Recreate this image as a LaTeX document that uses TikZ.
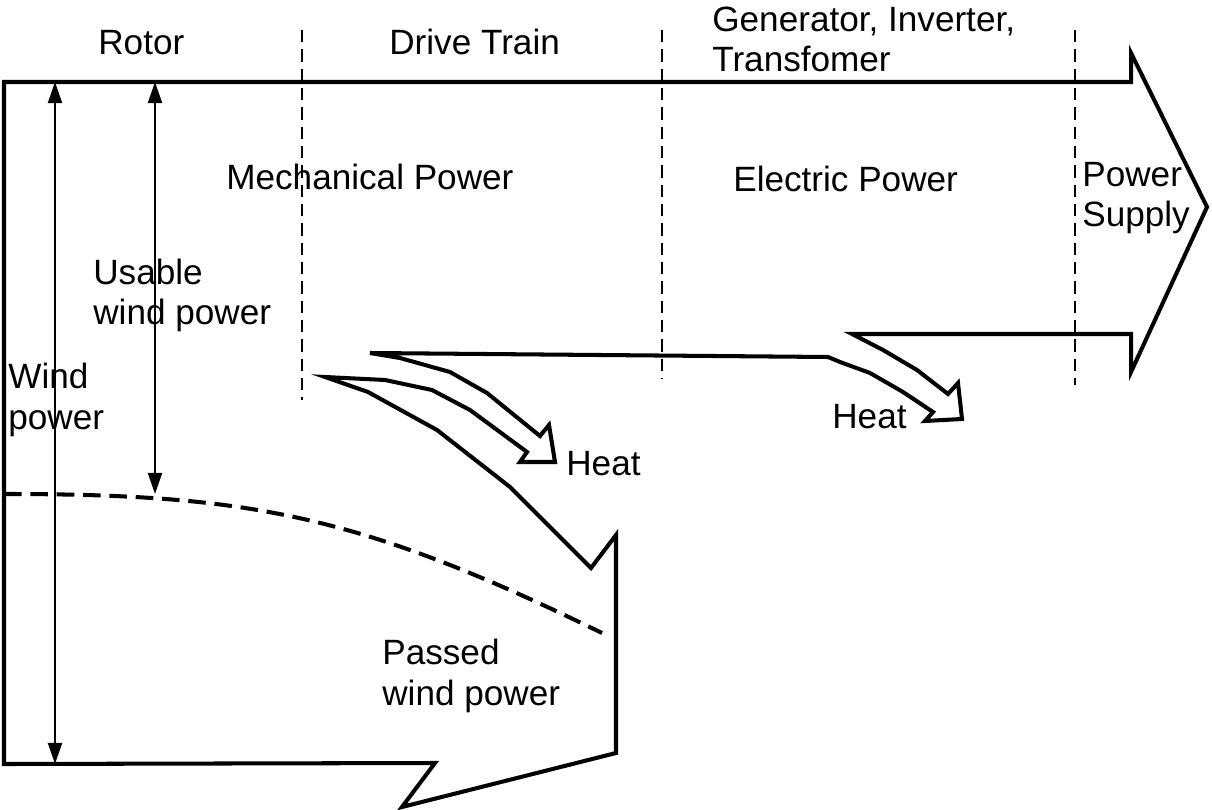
\documentclass[tikz,border=0pt]{standalone}
\usepackage{fontspec}
\setmainfont{Liberation Sans}
\usetikzlibrary{arrows.meta}

\begin{document}
\begin{tikzpicture}[x=0.02cm,y=-0.02cm,
  lbl/.style={font=\fontsize{20}{23}\selectfont,inner sep=0pt,align=left,anchor=base west},
  flow/.style={line width=2.3pt,line join=miter},
  sep/.style={line width=1.1pt,dash pattern=on 7pt off 4pt},
  split/.style={line width=2.3pt,dash pattern=on 10pt off 5pt},
  dim/.style={{Triangle[length=12pt,width=8pt]}-{Triangle[length=12pt,width=8pt]},line width=1.1pt}
]
\useasboundingbox (0,0) rectangle (1212,810);

% stage borders
\draw[sep] (302,30) -- (302,400);
\draw[sep] (662,30) -- (662,378);
\draw[sep] (1075,30) -- (1075,385);

% power flow outline
\draw[flow] (4,764) -- (4,82) -- (1131,82) -- (1131,53) -- (1207,207) -- (1131,372) -- (1131,334) -- (852,334)
  -- (883,350) -- (917,370) -- (948,394) -- (958,383) -- (962,419) -- (925,421) -- (933,412)
  -- (903,392) -- (870,373) -- (840,362) -- (828,357) -- (370,353)
  -- (400,358) -- (450,372) -- (487,393) -- (540,436) -- (549,425) -- (555,462) -- (520,462) -- (527,452)
  -- (470,410) -- (432,390) -- (385,380) -- (325,377)
  -- (368,392) -- (437,430) -- (510,487) -- (591,568) -- (616,535) -- (616,753) -- (402,807) -- (435,763)
  -- cycle;

% usable / passed border
\draw[split] (4,494) .. controls (250,494) and (360,515) .. (602,633);

\coordinate (windtop) at (55,82);
\coordinate (windbot) at (55,764);
\coordinate (usetop)  at (155,82);
\coordinate (usebot)  at (155,494);
\draw[dim] (windtop) -- (windbot);
\draw[dim] (usetop) -- (usebot);

% labels (multi-line ones sit on their last baseline)
\node[lbl] (rotor)  at (98,55)   {Rotor};
\node[lbl] (train)  at (389,55)  {Drive Train};
\node[lbl] (gen)    at (712,72)  {Generator, Inverter,\\Transfomer};
\node[lbl] (mech)   at (226,190) {Mechanical Power};
\node[lbl] (elec)   at (733,192) {Electric Power};
\node[lbl] (supply) at (1082,227) {Power\\Supply};
\node[lbl] (usable) at (93,325)  {Usable\\wind power};
\node[lbl] (wind)   at (8,429)   {Wind\\power};
\node[lbl] (heatA)  at (566,475) {Heat};
\node[lbl] (heatB)  at (832,428) {Heat};
\node[lbl] (passed) at (382,705) {Passed\\wind power};
\end{tikzpicture}
\end{document}
